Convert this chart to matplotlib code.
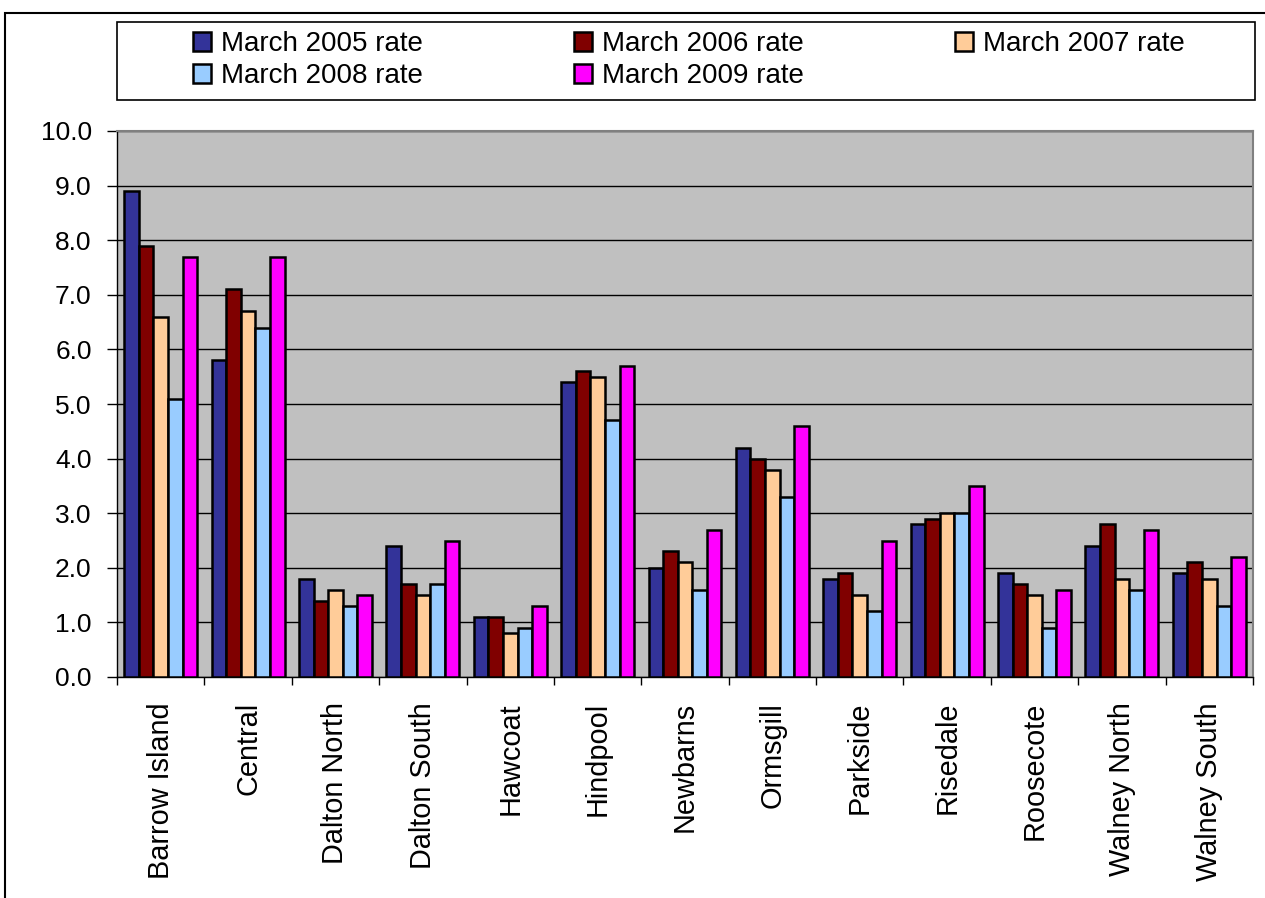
import numpy as np
import matplotlib.pyplot as plt
from matplotlib.patches import Rectangle

plt.rcParams['font.family'] = ['Liberation Sans', 'DejaVu Sans']

wards = ['Barrow Island', 'Central', 'Dalton North', 'Dalton South', 'Hawcoat',
         'Hindpool', 'Newbarns', 'Ormsgill', 'Parkside', 'Risedale',
         'Roosecote', 'Walney North', 'Walney South']

rate_2005 = [8.9, 5.8, 1.8, 2.4, 1.1, 5.4, 2.0, 4.2, 1.8, 2.8, 1.9, 2.4, 1.9]
rate_2006 = [7.9, 7.1, 1.4, 1.7, 1.1, 5.6, 2.3, 4.0, 1.9, 2.9, 1.7, 2.8, 2.1]
rate_2007 = [6.6, 6.7, 1.6, 1.5, 0.8, 5.5, 2.1, 3.8, 1.5, 3.0, 1.5, 1.8, 1.8]
rate_2008 = [5.1, 6.4, 1.3, 1.7, 0.9, 4.7, 1.6, 3.3, 1.2, 3.0, 0.9, 1.6, 1.3]
rate_2009 = [7.7, 7.7, 1.5, 2.5, 1.3, 5.7, 2.7, 4.6, 2.5, 3.5, 1.6, 2.7, 2.2]

series = [rate_2005, rate_2006, rate_2007, rate_2008, rate_2009]
labels = ['March 2005 rate', 'March 2006 rate', 'March 2007 rate',
          'March 2008 rate', 'March 2009 rate']
colors = ['#333399', '#800000', '#FFCC99', '#99CCFF', '#FF00FF']

W, H = 1265, 898
fig = plt.figure(figsize=(W / 100, H / 100), dpi=100)
fig.patch.set_facecolor('white')

# chart area border (runs off the right and bottom edges)
fig.patches.append(Rectangle((5 / W, -0.05), 1.1, (H - 13) / H + 0.05,
                             transform=fig.transFigure, fill=False,
                             edgecolor='black', linewidth=1.5))

ax = fig.add_axes([117 / W, (H - 677) / H, (1253 - 117) / W, (677 - 131) / H])
ax.set_facecolor('#C0C0C0')

x = np.arange(len(wards))
bw = 0.167
handles = []
for k, (vals, lab, col) in enumerate(zip(series, labels, colors)):
    b = ax.bar(x + (k - 2) * bw, vals, width=bw, color=col, edgecolor='black',
               linewidth=1.8, label=lab, zorder=3)
    handles.append(b)

ax.set_xlim(-0.5, len(wards) - 0.5)
ax.set_ylim(0, 10)
ticks = np.arange(0, 10.01, 1.0)
ax.set_yticks(ticks)
ax.set_yticklabels(['%.1f' % v for v in ticks])
ax.yaxis.grid(True, color='black', linewidth=1.0, zorder=1)
ax.set_axisbelow(True)

ax.set_xticks(x)
ax.set_xticklabels(wards, rotation=90, va='top', ha='center')
ax.set_xticks(np.arange(-0.5, len(wards), 1.0), minor=True)
ax.tick_params(axis='x', which='major', length=0, pad=18, labelsize=20.8)
ax.tick_params(axis='x', which='minor', length=5.8, width=1, direction='out')
ax.tick_params(axis='y', length=7.2, width=1, direction='out', labelsize=19, pad=11)

for s in ['left', 'bottom']:
    ax.spines[s].set_color('black')
    ax.spines[s].set_linewidth(1.0)
for s in ['top', 'right']:
    ax.spines[s].set_color('#808080')
    ax.spines[s].set_linewidth(1.5)

# legend frame
fig.patches.append(Rectangle((117 / W, (H - 100) / H), (1255 - 117) / W, 78 / H,
                             transform=fig.transFigure, fill=False,
                             edgecolor='black', linewidth=1.2))
order = [0, 3, 1, 4, 2]
fig.legend([handles[i] for i in order], [labels[i] for i in order],
           loc='upper left', bbox_to_anchor=(193 / W, (H - 31) / H), ncol=3,
           frameon=False, fontsize=20, handlelength=0.65, handleheight=0.65,
           handletextpad=0.36, columnspacing=5.43, labelspacing=0.22,
           borderpad=0, borderaxespad=0)

fig.savefig('out.png', dpi=100)
